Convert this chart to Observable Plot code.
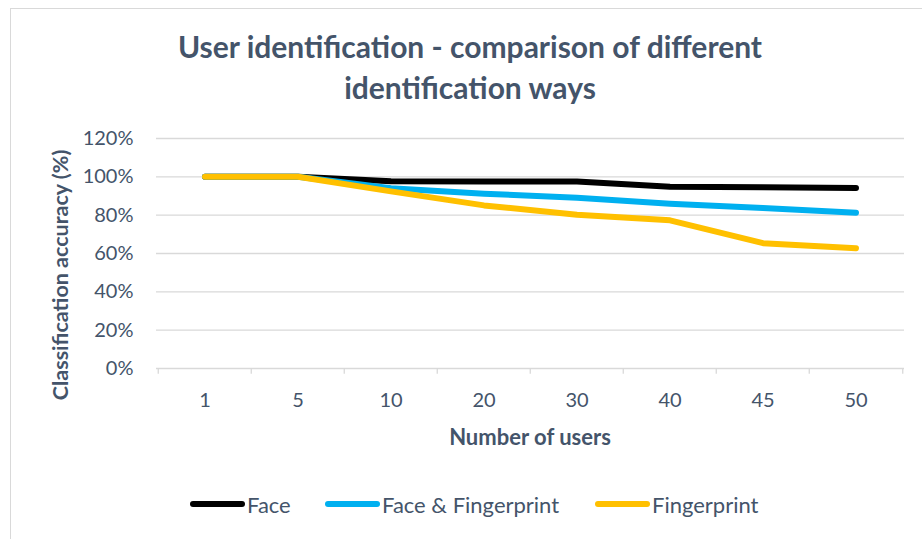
<!DOCTYPE html>
<html>
<head>
<meta charset="utf-8">
<script src="https://cdn.jsdelivr.net/npm/d3@7"></script>
<script src="https://cdn.jsdelivr.net/npm/@observablehq/plot@0.6"></script>
<style>
  html, body { margin: 0; padding: 0; background: #fff; }
  #wrap { position: relative; width: 922px; height: 539px; overflow: hidden; font-family: Lato, "Open Sans", sans-serif; color: #44546A; }
  #frame { position: absolute; left: 10px; top: 8px; width: 920px; height: 540px; border: 1px solid #D9D9D9; box-sizing: border-box; }
  #title { position: absolute; left: 0; width: 940px; top: 26px; text-align: center; font-size: 30px; font-weight: bold; line-height: 41px; color: #44546A; }
  #ylabel { position: absolute; left: 60px; top: 275px; transform: translate(-50%, -50%) rotate(-90deg); white-space: nowrap; font-size: 21.5px; font-weight: bold; }
  #xlabel { position: absolute; left: 530px; top: 436px; transform: translate(-50%, -50%); white-space: nowrap; font-size: 22px; font-weight: bold; }
  #plot { position: absolute; left: 0; top: 0; }
  .leg { position: absolute; top: 491px; height: 26px; display: flex; align-items: center; font-size: 22px; color: #44546A; white-space: nowrap; }
  .sw { width: 55px; height: 6px; border-radius: 3px; margin-right: 2px; }
</style>
</head>
<body>
<div id="wrap">
  <div id="frame"></div>
  <div id="plot"></div>
  <div id="title">User identification - comparison of different<br>identification ways</div>
  <div id="ylabel">Classification accuracy (%)</div>
  <div id="xlabel">Number of users</div>
  <div id="legend"></div>
</div>
<script>
const categories = ["1", "5", "10", "20", "30", "40", "45", "50"];
const face = [1.00, 1.00, 0.977, 0.976, 0.976, 0.948, 0.946, 0.942];
const faceFingerprint = [1.00, 1.00, 0.940, 0.912, 0.891, 0.860, 0.837, 0.813];
const fingerprint = [1.00, 1.00, 0.924, 0.851, 0.802, 0.773, 0.654, 0.628];
const seriesNames = ["Face", "Face & Fingerprint", "Fingerprint"];
const seriesColors = ["#000000", "#00B0F0", "#FFC000"];
const yTicks = [0, 0.2, 0.4, 0.6, 0.8, 1.0, 1.2];

const seriesValues = [face, faceFingerprint, fingerprint];
const data = [];
seriesNames.forEach((name, s) => {
  categories.forEach((c, i) => data.push({ series: name, users: c, acc: seriesValues[s][i] }));
});

const W = 922, H = 539;
const mL = 156, mR = 18, mT = 138, mB = 171;
const band = (W - mL - mR) / categories.length;

const chart = Plot.plot({
  width: W,
  height: H,
  marginLeft: mL,
  marginRight: mR,
  marginTop: mT,
  marginBottom: mB,
  style: { fontFamily: "Lato, 'Open Sans', sans-serif", fontSize: "20px", color: "#44546A", background: "transparent", overflow: "visible" },
  x: { type: "band", domain: categories, padding: 0, axis: null },
  y: { domain: [0, 1.2], axis: null },
  color: { domain: seriesNames, range: seriesColors },
  marks: [
    Plot.ruleY(yTicks.slice(1), { stroke: "#D9D9D9", strokeWidth: 1.3 }),
    Plot.ruleY([0], { stroke: "#D9D9D9", strokeWidth: 1.3 }),
    Plot.ruleX(categories, { x: d => d, y1: 0, y2: -0.03, dx: -band / 2, stroke: "#D9D9D9", strokeWidth: 1.3 }),
    Plot.ruleX([categories[categories.length - 1]], { x: d => d, y1: 0, y2: -0.03, dx: band / 2, stroke: "#D9D9D9", strokeWidth: 1.3 }),
    Plot.axisY({ ticks: yTicks, tickFormat: d => Math.round(d * 100) + "%", tickSize: 0, tickPadding: 23, fontSize: 20, label: null, fill: "#44546A" }),
    Plot.axisX({ tickSize: 0, tickPadding: 24, fontSize: 20, label: null, fill: "#44546A" }),
    Plot.line(data, { x: "users", y: "acc", z: "series", stroke: "series", strokeWidth: 6, strokeLinecap: "round", strokeLinejoin: "round" })
  ]
});
document.getElementById("plot").appendChild(chart);

const legendPos = [190, 325, 595];
const legend = document.getElementById("legend");
seriesNames.forEach((name, i) => {
  const item = document.createElement("div");
  item.className = "leg";
  item.style.left = legendPos[i] + "px";
  const sw = document.createElement("div");
  sw.className = "sw";
  sw.style.background = seriesColors[i];
  item.appendChild(sw);
  item.appendChild(document.createTextNode(name));
  legend.appendChild(item);
});
</script>
</body>
</html>
